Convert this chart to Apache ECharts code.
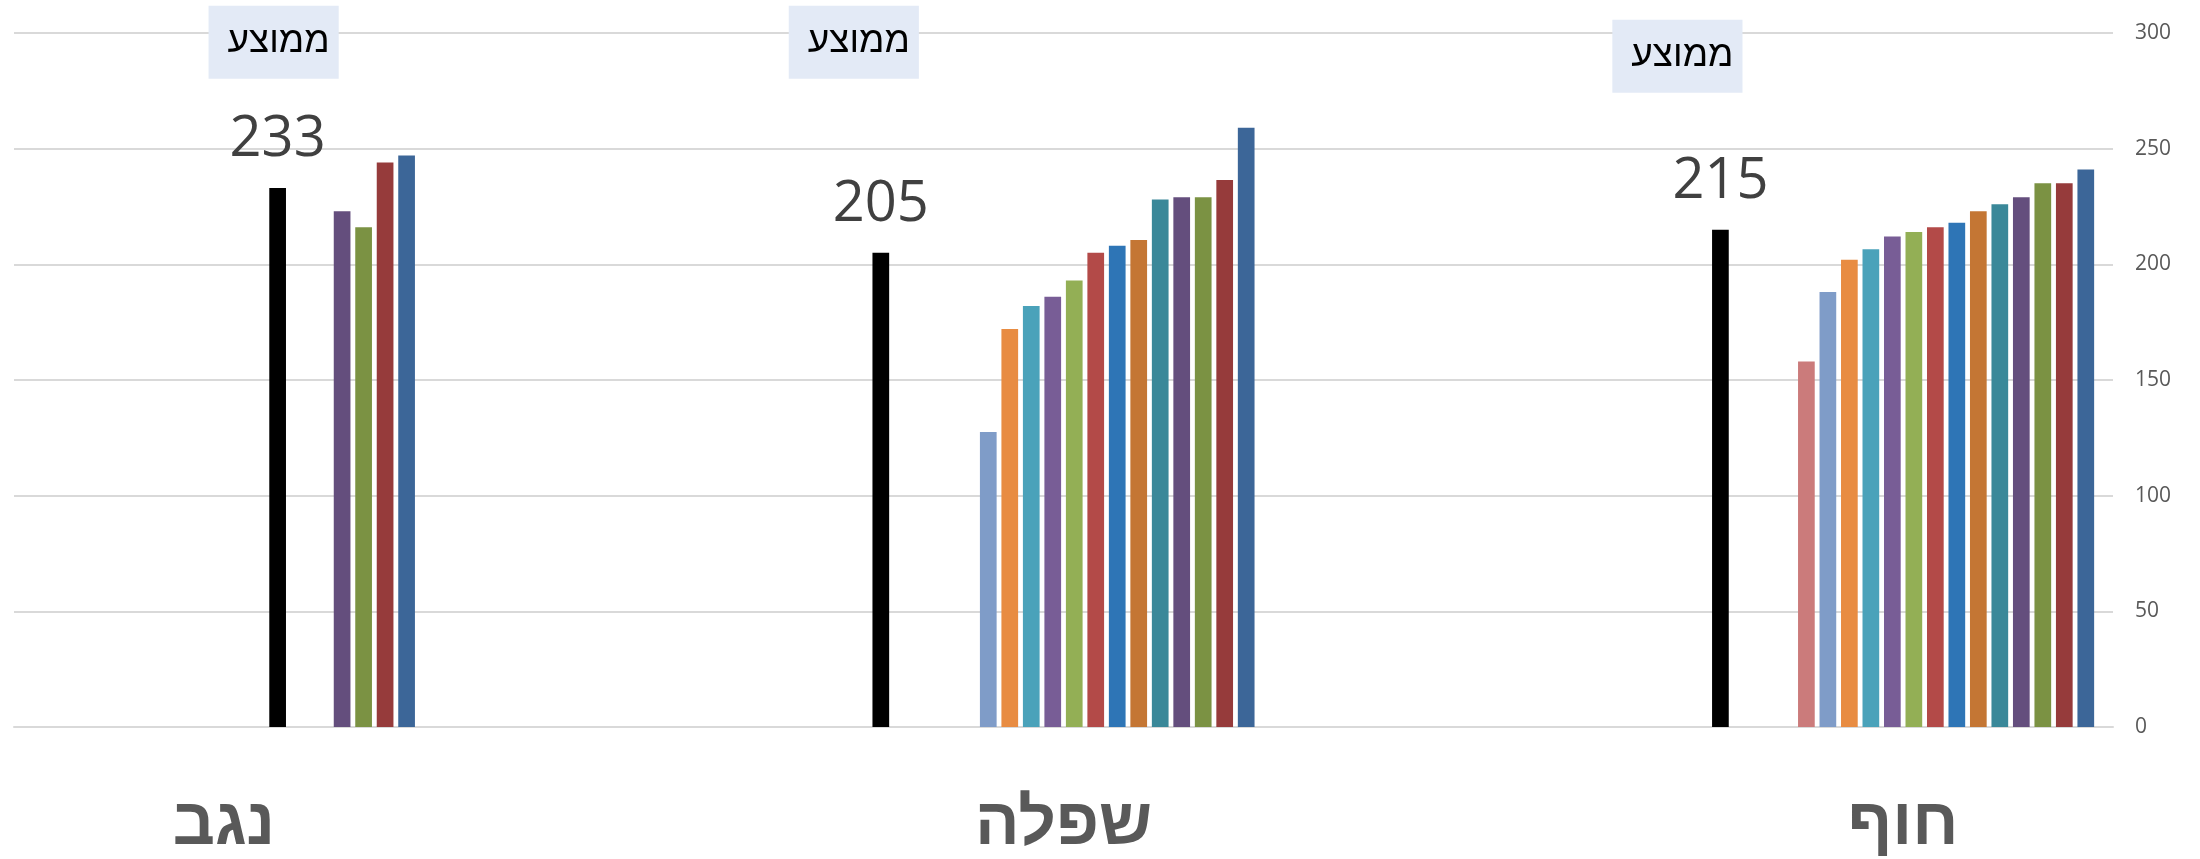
<!DOCTYPE html>
<html>
<head>
<meta charset="utf-8">
<script src="https://cdn.jsdelivr.net/npm/echarts@6/dist/echarts.min.js"></script>
<style>
  html, body { margin: 0; padding: 0; background: #fff; }
  #chart { width: 2200px; height: 859px; }
</style>
</head>
<body>
<div id="chart"></div>
<script>
// categories, right to left (axis is inverted); blanks are spacer categories
var regions = ['חוף', '', 'שפלה', '', 'נגב'];
// average per region, and which bar slot it sits in
var averages = [215, null, 205, null, 233];
var avgSlot = [0, null, 0, null, 11];
// coloured bars, slots 4..17 of each cluster
var chof = [158, 188, 202, 206.5, 212, 214, 216, 218, 223, 226, 229, 235, 235, 241];
var shfela = [null, 127.5, 172, 182, 186, 193, 205, 208, 210.5, 228, 229, 229, 236.5, 259];
var negev = [null, null, null, null, null, null, null, null, null, null, 223, 216, 244, 247];
var slotColors = ['#CB7B7B', '#7F9CC8', '#E88C42', '#4AA2BA', '#785D96', '#93AF55', '#B34A48',
                  '#2E75B6', '#C47634', '#3A8899', '#644E7D', '#7B9243', '#963B3B', '#3C6698'];
var yTicks = [0, 50, 100, 150, 200, 250, 300];
var boxText = 'ממוצע';

var SLOTS = 18, FIRST = 4;
var regionValues = [chof, null, shfela, null, negev];
// where the "ממוצע" boxes sit: y value and x shift from the average bar
var boxPos = [[290, -43], null, [296, -27], null, [296, -4]];

var series = [];
for (var s = 0; s < SLOTS; s++) {
  var data = [];
  var marks = [];
  for (var r = 0; r < regions.length; r++) {
    var v = null;
    if (avgSlot[r] === s) {
      v = {
        value: averages[r],
        itemStyle: { color: '#000000' },
        label: {
          show: true, position: 'top', distance: 20,
          fontFamily: 'Open Sans', fontSize: 56, color: '#404040'
        }
      };
      marks.push({
        coord: [r, boxPos[r][0]],
        label: { offset: [boxPos[r][1], 0] }
      });
    } else if (regionValues[r] && s >= FIRST) {
      v = regionValues[r][s - FIRST];
    }
    data.push(v == null ? '-' : v);
  }
  var item = {
    type: 'bar',
    barWidth: 16.7,
    barGap: '28.7%',
    barCategoryGap: '10%',
    itemStyle: { color: s >= FIRST ? slotColors[s - FIRST] : '#000000' },
    data: data
  };
  if (marks.length) {
    item.markPoint = {
      symbol: 'rect', symbolSize: 0,
      label: {
        show: true, position: 'inside',
        formatter: boxText,
        fontFamily: 'Liberation Sans', fontSize: 37, color: '#000',
        backgroundColor: '#E3EAF6',
        padding: [18, 9, 18, 19]
      },
      data: marks
    };
  }
  series.push(item);
}

var chart = echarts.init(document.getElementById('chart'));
chart.setOption({
  animation: false,
  grid: { left: 14, right: 87, top: 33, bottom: 132, outerBoundsMode: 'none' },
  xAxis: {
    type: 'category',
    inverse: true,
    data: regions,
    axisLine: { lineStyle: { color: '#D9D9D9', width: 2 } },
    axisTick: { show: false },
    axisLabel: {
      interval: 0, margin: 66,
      fontFamily: 'Liberation Sans', fontWeight: 'bold', fontSize: 66, color: '#595959'
    }
  },
  yAxis: {
    type: 'value',
    position: 'right',
    min: yTicks[0], max: yTicks[yTicks.length - 1], interval: 50,
    axisLine: { show: false },
    axisTick: { show: false },
    splitLine: { lineStyle: { color: '#D9D9D9', width: 2 } },
    axisLabel: { margin: 22, fontFamily: 'Open Sans', fontSize: 21, color: '#595959' }
  },
  series: series
});
</script>
</body>
</html>
